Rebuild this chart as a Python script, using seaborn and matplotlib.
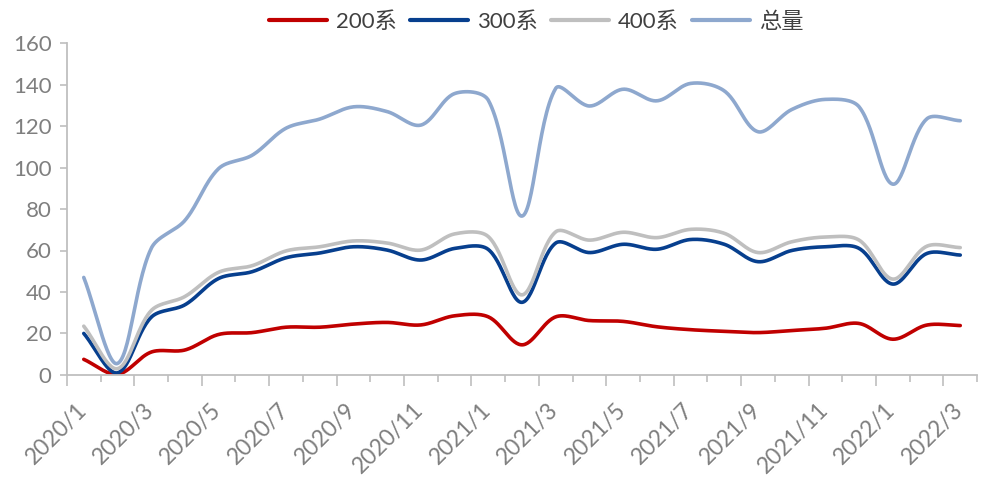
import numpy as np
import pandas as pd
import matplotlib
matplotlib.use("Agg")
import matplotlib.pyplot as plt
import seaborn as sns
from matplotlib.ticker import FixedLocator, NullFormatter

# Monthly sales by series, 2020/1 - 2022/3
months = [f"{y}/{m}" for y in (2020, 2021) for m in range(1, 13)] + ["2022/1", "2022/2", "2022/3"]

s200 = [7.5, 0.3, 11.0, 12.0, 19.5, 20.4, 23.0, 23.0, 24.5, 25.3, 24.1, 28.5, 28.0, 14.5,
        28.0, 26.2, 25.8, 23.2, 21.8, 21.0, 20.4, 21.4, 22.5, 24.8, 17.2, 24.0, 23.8]
s300 = [20.0, 1.0, 27.8, 33.8, 46.5, 49.8, 56.5, 58.8, 61.8, 60.2, 55.4, 61.0, 60.5, 35.0,
        63.6, 59.0, 63.0, 60.6, 65.3, 63.0, 54.6, 60.0, 61.8, 61.0, 43.8, 58.5, 57.8]
s400 = [23.5, 3.0, 31.0, 37.8, 49.5, 52.7, 59.8, 61.8, 64.6, 63.6, 60.2, 68.0, 66.7, 38.6,
        69.0, 65.0, 68.8, 66.2, 70.2, 68.3, 59.0, 64.2, 66.5, 65.0, 46.2, 62.0, 61.4]
total = [47.0, 5.5, 61.0, 74.5, 99.5, 106.0, 119.0, 123.4, 129.3, 127.0, 120.5, 135.7, 132.5, 76.6,
         138.2, 129.7, 137.8, 132.2, 140.6, 137.0, 117.3, 128.0, 132.9, 129.3, 92.0, 123.4, 122.6]

series_names = ["200系", "300系", "400系", "总量"]
series_values = [s200, s300, s400, total]
palette = ["#C00000", "#073F8E", "#BFBFBF", "#8EA8CE"]

# approximate on-screen size of one x step and one y unit (for chord lengths)
X_PX, Y_PX = 33.7, 2.075


def smooth_curve(values, steps=30, tension=1.0 / 3.0):
    """Bezier smoothing through every point; control arms scale with chord lengths."""
    p = np.column_stack([np.arange(len(values), dtype=float), np.asarray(values, float)])
    n = len(p)
    scale = np.array([X_PX, Y_PX])

    def dist(a, b):
        return float(np.hypot(*((a - b) * scale)))

    before = np.zeros_like(p)
    after = np.zeros_like(p)
    for i in range(n):
        p0 = p[i - 1] if i > 0 else p[i]
        p2 = p[i + 1] if i + 1 < n else p[i]
        d01, d12 = dist(p0, p[i]), dist(p[i], p2)
        tot = d01 + d12
        fa = tension * d01 / tot if tot > 0 else 0.0
        fb = tension * d12 / tot if tot > 0 else 0.0
        before[i] = p[i] - fa * (p2 - p0)
        after[i] = p[i] + fb * (p2 - p0)

    t = np.linspace(0, 1, steps, endpoint=False)[:, None]
    out = []
    for i in range(n - 1):
        p1, c1, c2, p2 = p[i], after[i], before[i + 1], p[i + 1]
        seg = ((1 - t) ** 3) * p1 + 3 * ((1 - t) ** 2) * t * c1 + 3 * (1 - t) * t ** 2 * c2 + t ** 3 * p2
        out.append(seg)
    out.append(p[-1][None, :])
    return np.vstack(out)


frames = []
for name, vals in zip(series_names, series_values):
    c = smooth_curve(vals)
    frames.append(pd.DataFrame({"x": c[:, 0], "y": c[:, 1], "series": name}))
df = pd.concat(frames, ignore_index=True)

sns.set_theme(style="white")
plt.rcParams["font.family"] = ["Lato", "Noto Sans CJK SC", "DejaVu Sans"]

fig = plt.figure(figsize=(9.84, 4.8), dpi=100)
ax = fig.add_axes([0.068, 0.219, 0.925, 0.691])

sns.lineplot(data=df, x="x", y="y", hue="series", hue_order=series_names,
             palette=palette, estimator=None, sort=False, units="series",
             linewidth=2.6, ax=ax, legend=True)

axis_gray = "#BFBFBF"
text_gray = "#7F7F7F"

ax.set_xlim(-0.5, len(months) - 0.5)
ax.set_ylim(0, 160)
ax.set_yticks(np.arange(0, 161, 20))
ax.set_xlabel("")
ax.set_ylabel("")

for side in ("top", "right"):
    ax.spines[side].set_visible(False)
for side in ("left", "bottom"):
    ax.spines[side].set_color(axis_gray)
    ax.spines[side].set_linewidth(1.3)

ax.tick_params(axis="y", left=True, length=5, width=1.2, color=axis_gray,
               labelcolor=text_gray, labelsize=16, pad=6)

# Category boundaries: long marks every second boundary, short ones between
bounds = np.arange(len(months) + 1) - 0.5
ax.xaxis.set_major_locator(FixedLocator(bounds[::2]))
ax.xaxis.set_minor_locator(FixedLocator(bounds[1::2]))
ax.xaxis.set_major_formatter(NullFormatter())
ax.tick_params(axis="x", which="major", bottom=True, length=8, width=1.2, color=axis_gray)
ax.tick_params(axis="x", which="minor", bottom=True, length=5, width=1.2, color=axis_gray)

# Month labels centred on every second category, rotated 45 degrees
xform = ax.get_xaxis_transform()
for i in range(0, len(months), 2):
    ax.text(i - 0.02, -0.095, months[i], transform=xform, rotation=45,
            rotation_mode="anchor", ha="right", va="center",
            fontsize=16.5, color=text_gray)

handles, labels = ax.get_legend_handles_labels()
for h in handles:
    h.set_linewidth(3.0)
leg = ax.legend(handles, labels, loc="upper center", bbox_to_anchor=(0.545, 1.018),
                bbox_transform=fig.transFigure, ncol=4, frameon=False,
                fontsize=16, handlelength=2.6, handletextpad=0.4, columnspacing=0.6,
                labelcolor="#404040")

fig.savefig("out.png", dpi=100)
